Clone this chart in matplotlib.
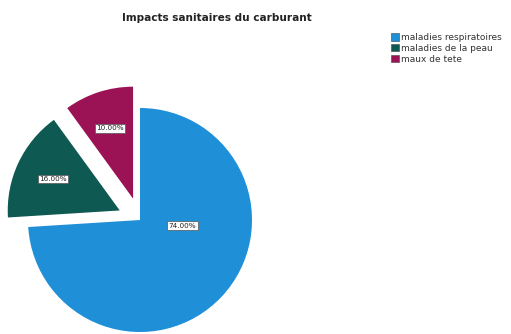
import matplotlib
matplotlib.use("Agg")
import matplotlib.pyplot as plt
from matplotlib.patches import Patch

title = "Impacts sanitaires du carburant"
categories = ["maladies respiratoires", "maladies de la peau", "maux de tete"]
values = [74.0, 16.0, 10.0]
colors = ["#1f8fd7", "#0e5a52", "#9c1355"]
explode = [0.0, 0.2, 0.2]

W, H = 511, 334
fig = plt.figure(figsize=(W / 100, H / 100), dpi=100)
fig.patch.set_facecolor("white")

R = 112  # radius in px
cx, cy = 140, 114  # centre px (from bottom)
S = 2.5 * R
ax = fig.add_axes([0, 0, S / W, S / H])
wedges, texts, autotexts = ax.pie(
    values, colors=colors, explode=explode, startangle=90, counterclock=False,
    autopct=lambda p: f"{p:.2f}%", pctdistance=0.66,
    wedgeprops=dict(linewidth=0), textprops=dict(fontsize=5.2, color="#222222"))
for t in autotexts:
    t.set_bbox(dict(boxstyle="square,pad=0.2", fc="white", ec="#555555", lw=0.5))
# SPSS-like placement of the big slice label
autotexts[0].set_position((0.38, -0.05))
ax.set_aspect("equal")
ax.set_xlim(-cx / R, -cx / R + 2.5)
ax.set_ylim(-cy / R, -cy / R + 2.5)
ax.axis("off")

fig.text(217 / W, 1 - 18 / H, title, ha="center", va="center",
         fontsize=7.6, fontweight="bold", color="#222222")

handles = [Patch(facecolor=c, edgecolor="#444444", linewidth=0.4, label=l)
           for c, l in zip(colors, categories)]
fig.legend(handles=handles, loc="upper left", bbox_to_anchor=(391 / W, 1 - 33 / H),
           frameon=False, fontsize=6.5, handlelength=0.9, handleheight=0.9,
           handletextpad=0.25, labelspacing=0.2, borderaxespad=0, borderpad=0,
           labelcolor="#333333")

fig.savefig("out.png", dpi=100, facecolor="white")
